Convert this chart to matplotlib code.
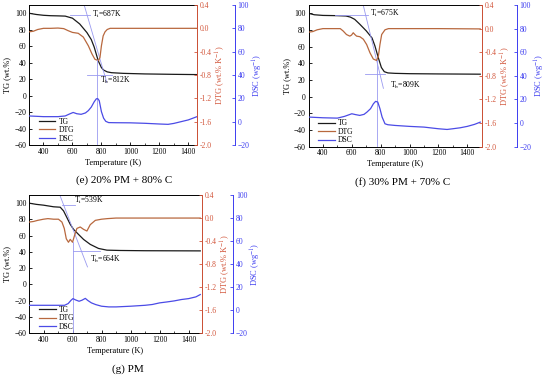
import matplotlib
matplotlib.use('Agg')
import matplotlib.pyplot as plt
from matplotlib.ticker import MultipleLocator, FormatStrFormatter

plt.rcParams['font.family'] = ['Liberation Serif', 'DejaVu Serif']
plt.rcParams['mathtext.fontset'] = 'stix'

# ---------------- data: panel (e) 20% PM + 80% C ----------------
e_T_tg = [300, 350, 400, 450, 500, 550, 600, 650, 700, 730, 750, 770, 780, 800, 815, 840, 870, 950, 1100, 1300, 1460]
e_tg = [100, 98.5, 97.5, 97, 96.8, 96.5, 94, 87, 76.5, 68, 59, 47, 41.5, 34, 31, 28.8, 27.8, 27, 26.3, 25.8, 25.5]
e_T_dtg = [300, 330, 360, 400, 450, 500, 540, 570, 600, 640, 675, 710, 735, 755, 780, 790, 800, 812, 825, 840, 860, 1000, 1200, 1460]
e_dtg = [-0.06, -0.05, -0.02, 0.0, 0.0, 0.005, -0.005, -0.04, -0.07, -0.085, -0.15, -0.3, -0.44, -0.53, -0.555, -0.5, -0.3, -0.13, -0.06, -0.02, 0.0, 0.0, 0.0, 0.0]
e_T_dsc = [300, 400, 500, 550, 580, 605, 630, 660, 690, 710, 730, 750, 765, 775, 785, 800, 815, 830, 850, 900, 1000, 1100, 1200, 1260, 1300, 1350, 1400, 1460]
e_dsc = [4.9, 4.3, 4.3, 4.9, 6.6, 7.9, 6.8, 6.3, 7.5, 9.5, 12.5, 17.0, 19.6, 19.7, 18.0, 8.6, 3.0, 0.3, -0.8, -0.9, -1.0, -1.4, -2.0, -2.3, -1.5, 0.0, 1.5, 4.3]
e_Ti, e_Tb = 687, 812

# ---------------- data: panel (f) 30% PM + 70% C ----------------
f_T_tg = [300, 340, 400, 500, 560, 590, 620, 655, 700, 740, 760, 785, 805, 825, 850, 900, 1000, 1200, 1490]
f_tg = [100, 98.3, 97.5, 97.2, 96.8, 95.5, 92.8, 87, 79, 70.5, 61, 46, 35, 30, 28.5, 28, 27.6, 27.3, 27]
f_T_dtg = [300, 330, 360, 400, 450, 520, 540, 563, 586, 598, 610, 621, 633, 656, 680, 703, 726, 749, 772, 784, 795, 807, 830, 854, 1000, 1200, 1490]
f_dtg = [-0.06, -0.05, -0.02, 0.0, 0.0, 0.0, -0.04, -0.1, -0.127, -0.11, -0.07, -0.1, -0.127, -0.137, -0.18, -0.27, -0.41, -0.515, -0.54, -0.47, -0.27, -0.1, -0.02, 0.0, 0.0, 0.0, -0.005]
f_T_dsc = [300, 400, 500, 550, 600, 625, 655, 685, 705, 730, 750, 765, 780, 795, 810, 830, 850, 900, 1000, 1100, 1200, 1260, 1300, 1350, 1400, 1450, 1490]
f_dsc = [5.1, 4.5, 4.2, 5.7, 7.9, 7.2, 6.5, 7.4, 9.3, 12.2, 16.4, 18.4, 17.8, 12.2, 5.1, -0.6, -1.4, -2.0, -2.8, -3.4, -4.8, -5.4, -4.8, -4.0, -2.8, -1.1, 0.8]
f_Ti, f_Tb = 675, 809

# ---------------- data: panel (g) PM ----------------
g_T_tg = [300, 350, 400, 470, 515, 538, 561, 584, 607, 641, 676, 722, 779, 837, 930, 1100, 1480]
g_tg = [100, 98.5, 97.5, 95.5, 95, 90.5, 82.3, 74, 67.8, 61.6, 55.4, 49.3, 44.3, 42.2, 41.8, 41.5, 41.3]
g_T_dtg = [300, 330, 360, 400, 430, 470, 503, 527, 543, 557, 572, 584, 600, 614, 630, 653, 676, 699, 722, 757, 800, 840, 900, 1480]
g_dtg = [-0.07, -0.06, -0.04, -0.02, -0.01, -0.02, -0.02, -0.07, -0.18, -0.36, -0.42, -0.37, -0.42, -0.3, -0.18, -0.155, -0.196, -0.225, -0.115, -0.04, -0.02, -0.01, 0.0, 0.0]
g_T_dsc = [300, 400, 500, 545, 570, 590, 603, 620, 645, 665, 688, 705, 730, 760, 800, 850, 900, 1000, 1100, 1150, 1200, 1250, 1300, 1350, 1400, 1450, 1480]
g_dsc = [4.3, 4.3, 4.3, 4.3, 5.8, 8.7, 10.1, 9.0, 7.8, 8.7, 10.3, 8.5, 6.4, 4.9, 3.5, 2.9, 2.9, 3.5, 4.3, 5.0, 6.4, 7.2, 8.1, 9.3, 10.1, 11.6, 13.6]
g_Ti, g_Tb = 539, 664

# annotation geometry (T, TG)
e_ann = dict(tan=([681, 837], [110, 16]), ti_h=([584, 720], [97.5, 97.5]), tb_h=([700, 870], [25.5, 25.5]),
             ti_txt=(733, 98.8), tb_txt=(791, 18.6), vline=(770, -0.55))
f_ann = dict(tan=([679, 819], [110, 10]), ti_h=([485, 714], [97.5, 97.5]), tb_h=([690, 830], [27.6, 27.6]),
             ti_txt=(726, 99.5), tb_txt=(865, 13), vline=(777, -0.54))
g_ann = dict(tan=([510, 703], [111, 21.6]), ti_h=([526, 618], [97.5, 97.5]), tb_h=([602, 790], [41, 41]),
             ti_txt=(611, 102.9), tb_txt=(722, 30.7), vline=(602, -0.42))

C_TG = '#1a1a1a'
C_DTG = '#b8683e'
C_DTG_AX = '#d2553a'
C_DSC = '#4b4be6'
C_DSC_AX = '#3c3cf0'
C_ANN = '#9a9af0'

W, H = 550, 376
fig = plt.figure(figsize=(W / 100, H / 100), dpi=100)

FS_T = 5.5
FS_L = 6


def rect(l, r, t, b):
    return [l / W, 1 - b / H, (r - l) / W, (b - t) / H]


def panel(rc, xlim, dsc_off, Tt, tg, Td, dtg, Ts, dsc, Ti, Tb, ann, title, title_xy):
    ax = fig.add_axes(rc)
    ax2 = ax.twinx()
    ax3 = ax.twinx()
    l1, = ax.plot(Tt, tg, color=C_TG, lw=0.9, label='TG')
    l2, = ax2.plot(Td, dtg, color=C_DTG, lw=0.9, label='DTG')
    l3, = ax3.plot(Ts, dsc, color=C_DSC, lw=0.9, label='DSC')
    # annotations
    ax.plot(*ann['tan'], color=C_ANN, lw=0.6, clip_on=True)
    ax.plot(*ann['ti_h'], color=C_ANN, lw=0.6)
    ax.plot(*ann['tb_h'], color=C_ANN, lw=0.6)
    vx, vy = ann['vline']
    ax2.plot([vx, vx], [vy, -2.0], color=C_ANN, lw=0.6)
    ax.text(ann['ti_txt'][0], ann['ti_txt'][1], r'T$_{\rm i}$=%dK' % Ti, fontsize=5.5, va='center', ha='left')
    ax.text(ann['tb_txt'][0], ann['tb_txt'][1], r'T$_{\rm b}$=%dK' % Tb, fontsize=5.5, va='center', ha='left')

    ax.set_xlim(*xlim)
    ax.set_ylim(-60, 110)
    ax2.set_ylim(-2.0, 0.4)
    ax3.set_ylim(-20, 100)
    ax.xaxis.set_minor_locator(MultipleLocator(100))
    ax.set_xticks([400, 600, 800, 1000, 1200, 1400])
    ax.set_yticks(list(range(-60, 101, 20)))
    ax2.set_yticks([-2.0, -1.6, -1.2, -0.8, -0.4, 0.0, 0.4])
    ax2.yaxis.set_major_formatter(FormatStrFormatter('%.1f'))
    ax3.set_yticks(list(range(-20, 101, 20)))

    ax.tick_params(axis='both', which='major', direction='in', length=2.5, width=0.6, labelsize=FS_T, pad=2)
    ax.tick_params(axis='x', which='minor', direction='in', length=1.5, width=0.5)
    ax2.tick_params(axis='y', direction='in', length=2.5, width=0.6, labelsize=FS_T, colors=C_DTG_AX, pad=2)
    ax3.tick_params(axis='y', direction='in', length=2.5, width=0.6, labelsize=FS_T, colors=C_DSC_AX, pad=2)

    for sp in ax.spines.values():
        sp.set_linewidth(0.7)
    ax2.spines['right'].set_color(C_DTG_AX)
    ax2.spines['right'].set_linewidth(0.7)
    ax3.spines['right'].set_position(('axes', dsc_off))
    ax3.spines['right'].set_color(C_DSC_AX)
    ax3.spines['right'].set_linewidth(0.7)
    for a in (ax2, ax3):
        for k in ('top', 'left', 'bottom'):
            a.spines[k].set_visible(False)

    ax.set_xlabel('Temperature (K)', fontsize=FS_L, labelpad=2)
    ax.set_ylabel('TG (wt.%)', fontsize=FS_L, labelpad=2)
    ax2.set_ylabel(r'DTG (wt.% K$^{-1}$)', fontsize=FS_L, color=C_DTG_AX, labelpad=1)
    ax3.set_ylabel(r'DSC (wg$^{-1}$)', fontsize=FS_L, color=C_DSC_AX, labelpad=1)

    ax3.legend(handles=[l1, l2, l3], loc='lower left', bbox_to_anchor=(0.03, -0.015), frameon=False,
               fontsize=FS_T, handlelength=2.2, labelspacing=0.05, borderaxespad=0.2, handletextpad=0.4)
    fig.text(title_xy[0] / W, 1 - title_xy[1] / H, title, fontsize=8, ha='center', va='center')


panel(rect(29, 197, 5, 145), (300, 1460), 1.226, e_T_tg, e_tg, e_T_dtg, e_dtg, e_T_dsc, e_dsc,
      e_Ti, e_Tb, e_ann, '(e) 20% PM + 80% C', (124, 180))
panel(rect(308.5, 481.7, 5, 146.7), (300, 1500), 1.202, f_T_tg, f_tg, f_T_dtg, f_dtg, f_T_dsc, f_dsc,
      f_Ti, f_Tb, f_ann, '(f) 30% PM + 70% C', (403, 182))
panel(rect(29, 201.7, 195, 333.3), (300, 1490), 1.183, g_T_tg, g_tg, g_T_dtg, g_dtg, g_T_dsc, g_dsc,
      g_Ti, g_Tb, g_ann, '(g) PM', (128, 369))

fig.savefig('out.png', dpi=100)
